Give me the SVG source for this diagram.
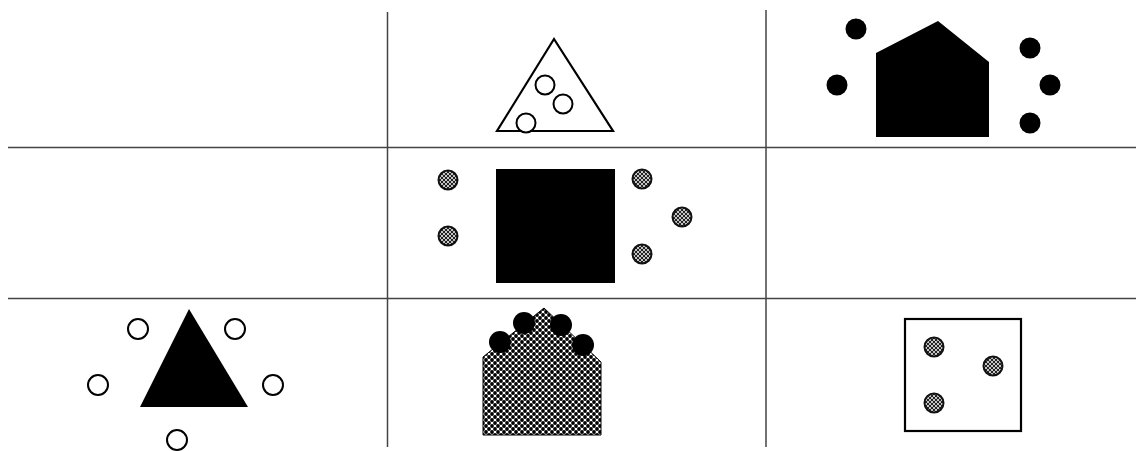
<svg xmlns="http://www.w3.org/2000/svg" width="1136" height="451" viewBox="0 0 1136 451">
<defs>
<pattern id="mesh" width="6" height="6" patternUnits="userSpaceOnUse">
<rect width="6" height="6" fill="#fff"/>
<circle cx="0" cy="0" r="1.9" fill="#000"/>
<circle cx="6" cy="0" r="1.9" fill="#000"/>
<circle cx="0" cy="6" r="1.9" fill="#000"/>
<circle cx="6" cy="6" r="1.9" fill="#000"/>
<circle cx="3" cy="3" r="1.9" fill="#000"/>
</pattern>
<pattern id="mesh2" width="4" height="4" patternUnits="userSpaceOnUse">
<rect width="4" height="4" fill="#fff"/>
<circle cx="0" cy="0" r="1.3" fill="#222"/>
<circle cx="4" cy="0" r="1.3" fill="#222"/>
<circle cx="0" cy="4" r="1.3" fill="#222"/>
<circle cx="4" cy="4" r="1.3" fill="#222"/>
<circle cx="2" cy="2" r="1.3" fill="#222"/>
</pattern>
</defs>
<style>
.grid{stroke:#444;stroke-width:1.5;fill:none}
.open{fill:#fff;stroke:#000;stroke-width:2}
.solid{fill:#000;stroke:none}
.hatch{fill:url(#mesh2);stroke:#111;stroke-width:2}
.outline{fill:#fff;stroke:#000;stroke-width:2.2}
</style>
<rect width="1136" height="451" fill="#fff"/>
<g id="grid">
<line class="grid" x1="387.5" y1="12" x2="387.5" y2="447"/>
<line class="grid" x1="766" y1="10" x2="766" y2="447"/>
<line class="grid" x1="8" y1="147.5" x2="1136" y2="147.5"/>
<line class="grid" x1="8" y1="298.5" x2="1136" y2="298.5"/>
</g>
<g id="cell-1-2">
<polygon class="outline" points="554,39 497,131 613,131"/>
<circle class="open" cx="545" cy="85" r="9.5"/>
<circle class="open" cx="563" cy="104" r="9.5"/>
<circle class="open" cx="526" cy="123" r="9.5"/>
</g>
<g id="cell-1-3">
<polygon class="solid" points="938,21 876,53 876,137 989,137 989,62"/>
<circle class="solid" cx="856" cy="29" r="10.5"/>
<circle class="solid" cx="837" cy="85" r="10.5"/>
<circle class="solid" cx="1030" cy="48" r="10.5"/>
<circle class="solid" cx="1050" cy="85" r="10.5"/>
<circle class="solid" cx="1030" cy="123" r="10.5"/>
</g>
<g id="cell-2-2">
<rect class="solid" x="496" y="169" width="119" height="114"/>
<circle class="hatch" cx="448" cy="180" r="9.5"/>
<circle class="hatch" cx="448" cy="236" r="9.5"/>
<circle class="hatch" cx="642" cy="179" r="9.5"/>
<circle class="hatch" cx="682" cy="217" r="9.5"/>
<circle class="hatch" cx="642" cy="254" r="9.5"/>
</g>
<g id="cell-3-1">
<polygon class="solid" points="189,309 140,407 248,407"/>
<circle class="open" cx="138" cy="329" r="10"/>
<circle class="open" cx="235" cy="329" r="10"/>
<circle class="open" cx="98" cy="385" r="10"/>
<circle class="open" cx="273" cy="385" r="10"/>
<circle class="open" cx="177" cy="440" r="10"/>
</g>
<g id="cell-3-2">
<polygon fill="url(#mesh)" stroke="#000" stroke-width="1" points="544,308 483,357 483,435 601,435 601,362"/>
<circle class="solid" cx="524" cy="323" r="11"/>
<circle class="solid" cx="561" cy="325" r="11"/>
<circle class="solid" cx="500" cy="342" r="11"/>
<circle class="solid" cx="583" cy="345" r="11"/>
</g>
<g id="cell-3-3">
<rect class="outline" x="905" y="319" width="116" height="112"/>
<circle class="hatch" cx="934" cy="347" r="9.5"/>
<circle class="hatch" cx="993" cy="366" r="9.5"/>
<circle class="hatch" cx="934" cy="403" r="9.5"/>
</g>
</svg>
